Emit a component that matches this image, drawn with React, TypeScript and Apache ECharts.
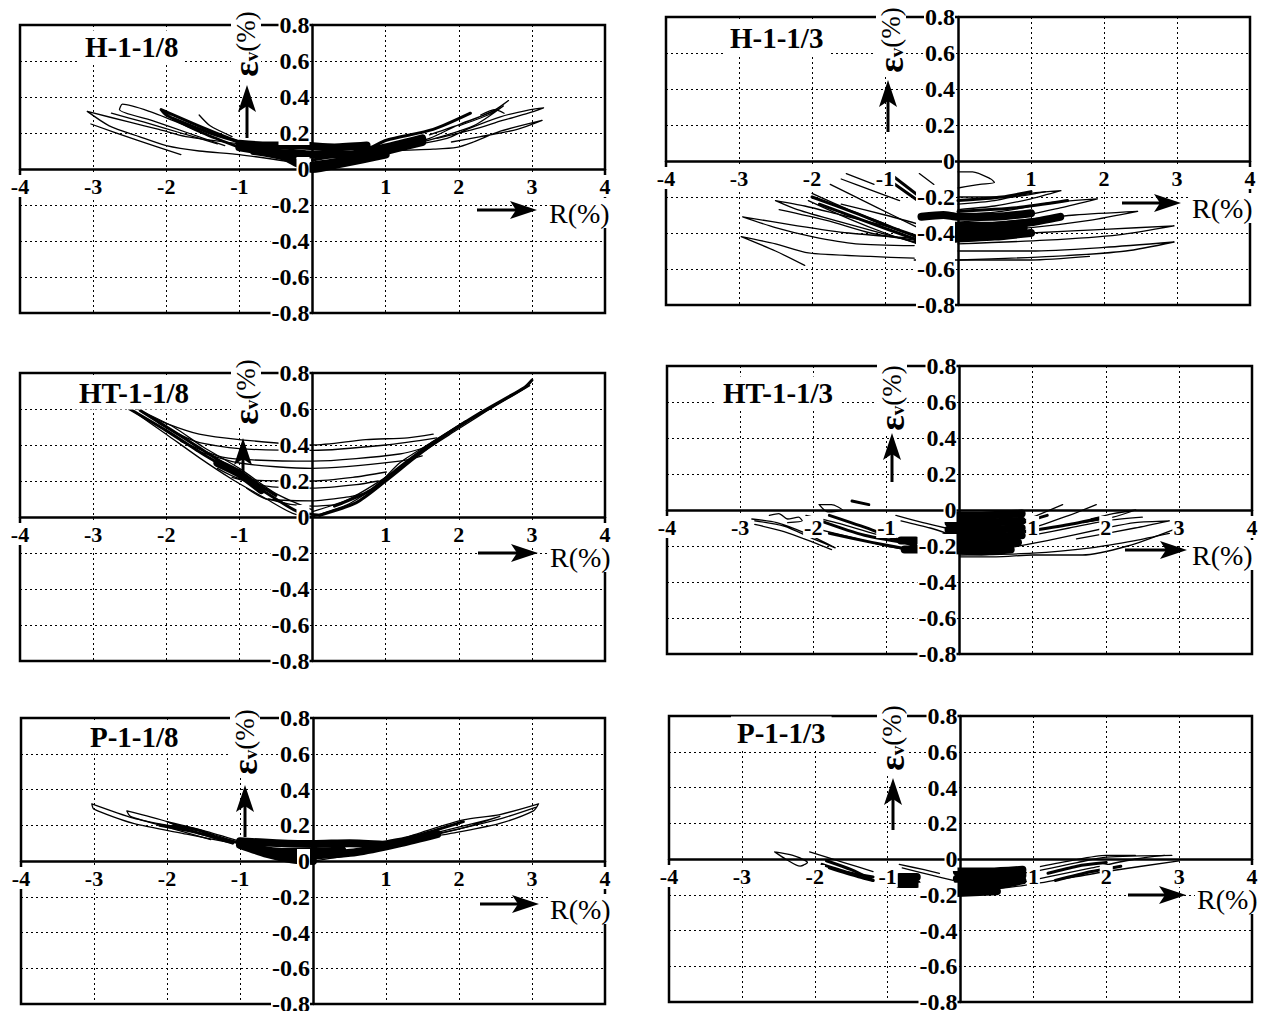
import React, { useEffect, useRef } from "react";
import * as echarts from "echarts";

type Pt = [number, number];
type Loop = Pt[];

// ---------------- data (R %, εv %) ----------------
const panelTitles = ["H-1-1/8", "H-1-1/3", "HT-1-1/8", "HT-1-1/3", "P-1-1/8", "P-1-1/3"];
const xMin = -4;
const xMax = 4;
const xStep = 1;
const yMin = -0.8;
const yMax = 0.8;
const yStep = 0.2;

// H-1-1/8
const h18Loops: Loop[] = [
  [[-0.1, 0.1], [-1.0, 0.14], [-1.73, 0.18], [-2.1, 0.22], [-2.5, 0.26], [-3.08, 0.32], [-2.78, 0.24], [-2.37, 0.18], [-2.0, 0.13], [-1.55, 0.1], [-1.0, 0.08], [-0.3, 0.04]],
  [[-3.03, 0.25], [-2.4, 0.16], [-1.8, 0.08]],
  [[-1.0, 0.12], [-1.32, 0.17], [-1.73, 0.24], [-2.23, 0.32], [-2.6, 0.36], [-2.64, 0.33], [-2.2, 0.27], [-1.7, 0.2], [-1.2, 0.13]],
  [[-2.75, 0.31], [-2.3, 0.26], [-1.8, 0.2], [-1.3, 0.14]],
  [[-1.55, 0.3], [-1.4, 0.24], [-1.1, 0.18]],
  [[1.0, 0.1], [1.6, 0.17], [2.02, 0.25], [2.47, 0.32], [2.68, 0.38], [2.5, 0.33], [2.1, 0.26], [1.6, 0.19]],
  [[1.2, 0.12], [1.84, 0.17], [2.11, 0.22], [2.57, 0.29], [2.98, 0.33], [3.16, 0.34], [2.95, 0.31], [2.6, 0.27], [2.2, 0.22], [1.7, 0.17]],
  [[1.0, 0.1], [1.65, 0.11], [1.97, 0.12], [2.2, 0.15], [2.57, 0.21], [3.14, 0.27], [2.8, 0.22], [2.3, 0.18], [1.9, 0.15]],
  [[1.5, 0.15], [2.2, 0.24], [2.61, 0.35], [2.4, 0.3], [2.0, 0.24]],
  [[2.3, 0.3], [2.5, 0.33], [2.62, 0.31]],
];
const h18Bold: Loop[] = [
  [[-0.6, 0.1], [-1.0, 0.15], [-1.5, 0.23], [-2.07, 0.33], [-2.0, 0.3], [-1.5, 0.2], [-1.0, 0.12]],
  [[0, 0.05], [0.74, 0.11], [1.01, 0.16], [1.65, 0.22], [2.16, 0.31]],
  [[-1.9, 0.28], [-1.4, 0.2], [-1.0, 0.15]],
];
const h18Heavy: Loop[] = [
  [[-1.0, 0.14], [-0.6, 0.13], [-0.2, 0.13], [0.3, 0.12], [0.74, 0.13]],
  [[-0.8, 0.1], [-0.4, 0.07], [-0.2, 0.03], [0, 0.0], [0.4, 0.03], [1.0, 0.08]],
  [[-1.0, 0.12], [-0.5, 0.09], [0, 0.08], [0.5, 0.08], [1.0, 0.12], [1.5, 0.17]],
  [[0, 0.02], [0.5, 0.05], [1.0, 0.1], [1.5, 0.15]],
];

// H-1-1/3
const h13Loops: Loop[] = [
  [[-0.6, -0.54], [-1.2, -0.53], [-2.05, -0.51], [-2.5, -0.46], [-2.97, -0.42], [-2.5, -0.5], [-2.1, -0.58]],
  [[-0.6, -0.43], [-1.5, -0.4], [-2.2, -0.36], [-2.95, -0.31], [-2.5, -0.37], [-2.0, -0.42], [-1.4, -0.46], [-0.6, -0.47]],
  [[-0.8, -0.38], [-1.6, -0.3], [-2.1, -0.25], [-2.5, -0.22], [-2.2, -0.27], [-1.6, -0.34], [-0.6, -0.45]],
  [[-2.45, -0.27], [-1.8, -0.33], [-1.2, -0.4], [-0.6, -0.44]],
  [[-2.0, -0.18], [-1.5, -0.27], [-1.0, -0.35], [-0.55, -0.43]],
  [[-2.05, -0.22], [-1.5, -0.32], [-1.0, -0.4], [-0.55, -0.46]],
  [[-1.75, -0.13], [-1.3, -0.22], [-0.9, -0.3], [-0.55, -0.37]],
  [[-1.53, -0.07], [-1.15, -0.13]],
  [[-1.6, -0.1], [-1.2, -0.16], [-0.8, -0.22]],
  [[-0.53, -0.07], [-0.33, -0.13]],
  [[-1.6, -0.24], [-1.0, -0.3], [-0.55, -0.35]],
  [[0, -0.06], [0.2, -0.06], [0.45, -0.1], [0.5, -0.12], [0.3, -0.13], [0, -0.15]],
  [[0, -0.2], [0.7, -0.2], [1.2, -0.17]],
  [[0, -0.24], [0.5, -0.22], [1.0, -0.18], [1.41, -0.165], [1.0, -0.21], [0.5, -0.25], [0, -0.27]],
  [[0, -0.3], [0.6, -0.28], [1.3, -0.23], [1.91, -0.21], [1.4, -0.26], [0.8, -0.31], [0, -0.34]],
  [[0, -0.36], [0.8, -0.33], [1.6, -0.3], [2.46, -0.28], [1.8, -0.33], [1.0, -0.37], [0, -0.4]],
  [[0, -0.42], [1.0, -0.4], [2.0, -0.38], [2.96, -0.36], [2.2, -0.41], [1.2, -0.44], [0, -0.46]],
  [[0, -0.5], [1.0, -0.5], [2.0, -0.48], [2.96, -0.45], [2.3, -0.5], [1.3, -0.53], [0, -0.55]],
  [[-0.6, -0.55], [0, -0.55], [1.0, -0.55], [1.8, -0.53]],
];
const h13Bold: Loop[] = [
  [[-0.87, -0.09], [-0.55, -0.19]],
  [[-0.9, -0.12], [-0.55, -0.22]],
  [[-2.0, -0.2], [-1.4, -0.29], [-0.9, -0.37], [-0.55, -0.42]],
  [[-1.9, -0.24], [-1.3, -0.33], [-0.55, -0.44]],
  [[0, -0.22], [0.6, -0.2], [1.0, -0.17]],
  [[0, -0.28], [0.8, -0.26], [1.5, -0.22]],
];
const h13Heavy: Loop[] = [
  [[-0.55, -0.44], [-0.3, -0.44], [0, -0.43], [0.5, -0.42], [1.0, -0.4]],
  [[-0.5, -0.31], [-0.2, -0.3], [0, -0.31], [0.5, -0.31], [1.0, -0.29]],
  [[-0.4, -0.36], [0, -0.36], [0.5, -0.36], [1.0, -0.34], [1.4, -0.31]],
  [[-0.3, -0.4], [0.3, -0.39], [0.9, -0.37]],
];

// HT-1-1/8
const ht18Loops: Loop[] = [
  [[-2.32, 0.58], [-2.0, 0.52], [-1.55, 0.46], [-1.0, 0.43], [0, 0.4], [0.73, 0.43], [1.3, 0.44], [1.65, 0.46]],
  [[-2.1, 0.52], [-1.6, 0.42], [-1.0, 0.38], [0, 0.37], [1.0, 0.4], [1.7, 0.44]],
  [[-1.8, 0.42], [-1.3, 0.34], [-0.96, 0.32], [0, 0.31], [1.19, 0.35], [1.65, 0.4]],
  [[-1.6, 0.37], [-1.0, 0.3], [0, 0.27], [1.19, 0.31], [1.5, 0.34]],
  [[-1.3, 0.27], [-0.96, 0.21], [0, 0.2], [0.55, 0.22], [1.01, 0.25]],
  [[-1.1, 0.22], [-0.6, 0.17], [0, 0.16], [0.6, 0.18], [0.9, 0.2]],
  [[-0.9, 0.16], [-0.63, 0.1], [0, 0.09], [0.46, 0.11], [0.7, 0.13]],
  [[-0.6, 0.1], [-0.3, 0.07], [0, 0.06], [0.4, 0.07]],
  [[-2.46, 0.59], [-2.0, 0.46], [-1.55, 0.33], [-1.1, 0.21], [-0.63, 0.1], [-0.27, 0.02], [0, 0]],
  [[-2.4, 0.6], [-1.9, 0.5], [-1.5, 0.39], [-1.0, 0.27], [-0.5, 0.13], [0, 0.04]],
  [[0, 0], [0.14, 0.02], [0.51, 0.075], [0.92, 0.19], [1.19, 0.3], [1.65, 0.42], [2.01, 0.51], [2.47, 0.61], [2.97, 0.73]],
  [[0, 0.03], [0.5, 0.1], [1.0, 0.22], [1.5, 0.36], [2.0, 0.49], [2.5, 0.62], [2.97, 0.74]],
];
const ht18Bold: Loop[] = [
  [[-2.5, 0.6], [-2.0, 0.48], [-1.5, 0.35], [-1.0, 0.23], [-0.5, 0.1], [-0.2, 0.03], [0.1, 0.01]],
  [[-2.35, 0.59], [-1.8, 0.45], [-1.3, 0.32], [-0.9, 0.22], [-0.5, 0.12]],
  [[0.1, 0.01], [0.6, 0.08], [1.0, 0.2], [1.4, 0.33], [1.8, 0.45], [2.3, 0.58], [2.9, 0.72], [3.0, 0.76]],
  [[0.3, 0.06], [0.8, 0.15], [1.2, 0.28], [1.6, 0.4], [2.1, 0.53]],
];
const ht18Heavy: Loop[] = [
  [[-1.3, 0.3], [-1.0, 0.24], [-0.7, 0.15]],
];

// HT-1-1/3
const ht13Loops: Loop[] = [
  [[-2.84, -0.05], [-2.5, -0.07], [-2.1, -0.13], [-1.7, -0.21], [-2.0, -0.16], [-2.4, -0.09], [-2.8, -0.06]],
  [[-2.8, -0.08], [-2.4, -0.12], [-2.0, -0.18], [-1.75, -0.22]],
  [[-2.6, -0.03], [-2.47, -0.02], [-2.35, -0.05], [-2.2, -0.04], [-2.15, -0.06], [-2.35, -0.07]],
  [[-1.92, 0.03], [-1.75, 0.03], [-1.6, 0.0], [-1.8, -0.01], [-1.92, 0.03]],
  [[-2.1, -0.03], [-1.6, -0.08], [-1.1, -0.14], [-0.55, -0.2]],
  [[-2.0, -0.1], [-1.5, -0.15], [-1.0, -0.2], [-0.55, -0.23]],
  [[-0.87, -0.03], [-0.5, -0.07], [-0.19, -0.1]],
  [[-0.8, -0.06], [-0.4, -0.1], [-0.1, -0.14]],
  [[0, -0.2], [0.6, -0.1], [1.0, -0.04], [1.41, 0.03]],
  [[0.2, -0.22], [1.0, -0.1], [1.5, -0.03], [1.87, 0.03]],
  [[0.3, -0.24], [1.2, -0.17], [2.0, -0.1], [2.4, -0.07], [2.87, -0.06], [2.4, -0.1], [1.6, -0.16]],
  [[0, -0.25], [1.0, -0.24], [1.8, -0.21], [2.4, -0.17], [2.87, -0.13]],
  [[1.8, -0.05], [2.1, -0.02], [2.41, 0.0], [2.1, -0.04], [1.7, -0.07]],
  [[0, -0.26], [0.5, -0.26], [1.0, -0.25], [1.68, -0.25], [2.3, -0.2], [2.92, -0.11]],
  [[1.0, -0.14], [1.5, -0.1], [2.0, -0.06], [2.5, -0.04]],
];
const ht13Bold: Loop[] = [
  [[-1.78, -0.03], [-1.2, -0.11], [-0.55, -0.21]],
  [[-1.78, -0.13], [-1.2, -0.18], [-0.55, -0.23]],
  [[-1.47, 0.05], [-1.24, 0.03]],
  [[-1.9, -0.06], [-1.3, -0.14], [-0.6, -0.19]],
  [[0.3, -0.15], [0.8, -0.08], [1.2, -0.03]],
  [[0.9, -0.12], [1.5, -0.08], [2.0, -0.04]],
];
const ht13Heavy: Loop[] = [
  [[-0.15, -0.03], [0.3, -0.03], [0.85, -0.02]],
  [[-0.15, -0.07], [0.3, -0.07], [0.85, -0.06]],
  [[-0.15, -0.11], [0.3, -0.11], [0.85, -0.1]],
  [[-0.2, -0.15], [0.3, -0.15], [0.85, -0.14]],
  [[-0.3, -0.19], [0.3, -0.19], [0.8, -0.18]],
  [[-0.75, -0.22], [-0.3, -0.22], [0.3, -0.23], [0.7, -0.22]],
  [[-0.8, -0.17], [-0.6, -0.17]],
];

// P-1-1/8
const p18Loops: Loop[] = [
  [[-1.0, 0.1], [-1.55, 0.17], [-2.0, 0.2], [-2.46, 0.24], [-3.03, 0.32], [-3.0, 0.29], [-2.46, 0.21], [-1.73, 0.15], [-1.1, 0.1]],
  [[-1.2, 0.11], [-1.7, 0.17], [-2.0, 0.22], [-2.55, 0.28], [-2.5, 0.25], [-2.0, 0.19], [-1.4, 0.12]],
  [[-1.0, 0.11], [-1.5, 0.17], [-2.0, 0.22], [-1.6, 0.16], [-1.2, 0.12]],
  [[0, 0], [0.74, 0.05], [1.42, 0.12], [1.97, 0.16], [2.56, 0.21], [3.02, 0.28], [3.09, 0.32], [2.56, 0.26], [2.06, 0.23], [1.56, 0.17], [1.05, 0.1]],
  [[0.3, 0.02], [1.0, 0.08], [1.6, 0.14], [2.1, 0.19], [2.56, 0.25], [2.3, 0.22], [1.8, 0.17], [1.2, 0.11]],
  [[1.4, 0.13], [2.0, 0.18], [2.6, 0.24], [3.05, 0.3]],
];
const p18Bold: Loop[] = [
  [[-0.99, 0.1], [-1.3, 0.13], [-1.55, 0.17], [-1.9, 0.2]],
  [[0.9, 0.1], [1.4, 0.14], [2.06, 0.22]],
  [[-2.1, 0.2], [-1.6, 0.16], [-1.1, 0.1]],
];
const p18Heavy: Loop[] = [
  [[-1, 0.11], [-0.5, 0.1], [0, 0.095], [0.5, 0.1], [1.0, 0.09]],
  [[-1, 0.09], [-0.63, 0.04], [-0.3, 0.01], [0, 0]],
  [[-0.8, 0.07], [-0.4, 0.05], [0, 0.05], [0.4, 0.06]],
  [[0, 0.03], [0.6, 0.05], [1.2, 0.1], [1.7, 0.15]],
];

// P-1-1/3
const p13Loops: Loop[] = [
  [[-2.55, 0.04], [-2.3, 0.02], [-2.1, -0.02], [-2.2, -0.04], [-2.4, 0.0], [-2.55, 0.04]],
  [[-2.07, 0.04], [-1.6, -0.02], [-1.2, -0.07]],
  [[-0.84, -0.03], [-0.5, -0.06], [-0.29, -0.08]],
  [[-0.8, -0.05], [-0.4, -0.09], [-0.1, -0.12]],
  [[0.2, -0.12], [1.0, -0.07], [1.6, -0.02], [2.0, 0.01], [2.9, 0.02]],
  [[0.4, -0.17], [1.2, -0.1], [1.8, -0.05], [2.4, 0.0], [2.8, 0.02]],
  [[0.0, -0.19], [1.0, -0.14], [2.0, -0.07], [3.0, -0.01]],
  [[1.0, -0.05], [1.5, -0.01], [2.0, 0.02], [2.4, 0.02]],
];
const p13Bold: Loop[] = [
  [[-1.84, -0.01], [-1.5, -0.06], [-1.2, -0.12]],
  [[-1.9, -0.03], [-1.5, -0.08], [-1.2, -0.1]],
  [[-1.8, -0.05], [-1.4, -0.1], [-1.2, -0.12]],
  [[1.2, -0.08], [1.6, -0.04], [2.0, -0.02]],
  [[1.3, -0.12], [1.8, -0.07], [2.2, -0.04]],
];
const p13Heavy: Loop[] = [
  [[-0.84, -0.1], [-0.6, -0.1]],
  [[-0.84, -0.14], [-0.6, -0.14]],
  [[-0.05, -0.07], [0.4, -0.07], [0.85, -0.06]],
  [[-0.05, -0.11], [0.4, -0.11], [0.85, -0.09]],
  [[-0.05, -0.15], [0.4, -0.15], [0.85, -0.12]],
  [[-0.05, -0.19], [0.5, -0.18]],
];

const panelThin = [h18Loops, h13Loops, ht18Loops, ht13Loops, p18Loops, p13Loops];
const panelBold = [h18Bold, h13Bold, ht18Bold, ht13Bold, p18Bold, p13Bold];
const panelHeavy = [h18Heavy, h13Heavy, ht18Heavy, ht13Heavy, p18Heavy, p13Heavy];

// ---------------- layout (pixels) ----------------
type Layout = {
  grid: { left: number; top: number; width: number; height: number };
  title: [number, number];
  eps: [number, number];
  up: [number, number, number]; // x, tipY, bottomY
  r: [number, number]; // left, centerY
  rArrow: [number, number, number]; // x0, x1, y
};
const layout: Layout[] = [
  { grid: { left: 20, top: 25, width: 585, height: 288 }, title: [79, 47], eps: [246, 44], up: [247, 85, 138], r: [547, 213], rArrow: [477, 537, 210] },
  { grid: { left: 666, top: 17, width: 584, height: 288 }, title: [724, 38], eps: [891, 40], up: [888, 80, 132], r: [1190, 208], rArrow: [1122, 1181, 203] },
  { grid: { left: 20, top: 373, width: 585, height: 288 }, title: [73, 393], eps: [246, 392], up: [243, 438, 480], r: [548, 557], rArrow: [478, 538, 553] },
  { grid: { left: 667, top: 366, width: 585, height: 288 }, title: [717, 393], eps: [892, 398], up: [892, 433, 482], r: [1190, 555], rArrow: [1125, 1187, 550] },
  { grid: { left: 21, top: 718, width: 584, height: 286 }, title: [84, 737], eps: [245, 742], up: [245, 785, 837], r: [548, 909], rArrow: [480, 539, 904] },
  { grid: { left: 669, top: 716, width: 583, height: 286 }, title: [731, 733], eps: [892, 738], up: [893, 778, 830], r: [1195, 899], rArrow: [1128, 1186, 895] },
];

const SERIF = '"Liberation Serif", "Times New Roman", serif';

function fmtY(v: number): string {
  const r = Math.round(v * 10) / 10;
  return r === 0 ? "0" : r.toFixed(1);
}

function buildOption() {
  const grids = layout.map((l) => ({
    ...l.grid,
    show: true,
    borderColor: "#000",
    borderWidth: 2.5,
    backgroundColor: "transparent",
    containLabel: false,
    outerBoundsMode: "none",
  }));
  const split = { show: true, lineStyle: { color: "#000", type: [2, 3], width: 1 } };
  const xAxes = layout.map((l, i) => ({
    gridIndex: i,
    type: "value",
    position: "bottom",
    offset: -l.grid.height / 2,
    min: xMin,
    max: xMax,
    interval: xStep,
    z: 5,
    axisLine: { onZero: false, lineStyle: { color: "#000", width: 2.5 } },
    axisTick: { show: false },
    axisLabel: {
      showMinLabel: true,
      showMaxLabel: true,
      formatter: (v: number) => (Math.abs(v) < 1e-9 ? "" : String(Math.round(v))),
      color: "#000",
      fontFamily: SERIF,
      fontWeight: "bold",
      fontSize: 22,
      margin: 6,
      backgroundColor: "#fff",
      padding: [0, 1],
    },
    splitLine: split,
  }));
  const yAxes = layout.map((l, i) => ({
    gridIndex: i,
    type: "value",
    position: "left",
    offset: -l.grid.width / 2,
    min: yMin,
    max: yMax,
    interval: yStep,
    z: 5,
    axisLine: { onZero: false, lineStyle: { color: "#000", width: 2.5 } },
    axisTick: { show: false },
    axisLabel: {
      showMinLabel: true,
      showMaxLabel: true,
      formatter: fmtY,
      color: "#000",
      fontFamily: SERIF,
      fontWeight: "bold",
      fontSize: 24,
      margin: 3,
      backgroundColor: "#fff",
      padding: [0, 0, 0, 1],
    },
    splitLine: split,
  }));

  const series: any[] = [];
  const add = (loops: Loop[], i: number, width: number) => {
    loops.forEach((loop) => {
      series.push({
        type: "line",
        xAxisIndex: i,
        yAxisIndex: i,
        data: loop,
        symbol: "none",
        smooth: 0.25,
        silent: true,
        z: 2,
        lineStyle: { color: "#000", width, cap: "round", join: "round" },
      });
    });
  };
  layout.forEach((_, i) => {
    add(panelThin[i], i, 1.3);
    add(panelBold[i], i, 3);
    add(panelHeavy[i], i, 8);
  });

  const elements: any[] = [];
  layout.forEach((l, i) => {
    elements.push({
      type: "text",
      x: l.title[0],
      y: l.title[1],
      z: 10,
      style: {
        text: panelTitles[i],
        font: `bold 29px ${SERIF}`,
        fill: "#000",
        align: "left",
        verticalAlign: "middle",
        backgroundColor: "#fff",
        padding: [2, 6],
      },
    });
    elements.push({
      type: "text",
      x: l.eps[0],
      y: l.eps[1],
      rotation: Math.PI / 2,
      z: 10,
      style: {
        text: "{e|ε}{s|v}{p|(%)}",
        align: "center",
        verticalAlign: "middle",
        backgroundColor: "#fff",
        padding: [0, 3],
        fill: "#000",
        rich: {
          e: { font: `bold 36px ${SERIF}`, fill: "#000", lineHeight: 30 },
          s: { font: `bold 19px ${SERIF}`, fill: "#000", verticalAlign: "bottom", lineHeight: 30, padding: [12, 0, 0, 0] },
          p: { font: `27px ${SERIF}`, fill: "#000", lineHeight: 30 },
        },
      },
    });
    const [ax, tipY, botY] = l.up;
    elements.push({
      type: "line",
      z: 10,
      shape: { x1: ax, y1: botY, x2: ax, y2: tipY + 14 },
      style: { stroke: "#000", lineWidth: 3 },
    });
    elements.push({
      type: "polygon",
      z: 10,
      shape: { points: [[ax, tipY], [ax + 9, tipY + 27], [ax, tipY + 21], [ax - 9, tipY + 27]] },
      style: { fill: "#000" },
    });
    const [x0, x1, ay] = l.rArrow;
    elements.push({
      type: "line",
      z: 10,
      shape: { x1: x0, y1: ay, x2: x1 - 14, y2: ay },
      style: { stroke: "#000", lineWidth: 3 },
    });
    elements.push({
      type: "polygon",
      z: 10,
      shape: { points: [[x1, ay], [x1 - 27, ay - 9], [x1 - 21, ay], [x1 - 27, ay + 9]] },
      style: { fill: "#000" },
    });
    elements.push({
      type: "text",
      x: l.r[0],
      y: l.r[1],
      z: 10,
      style: {
        text: "R(%)",
        font: `28px ${SERIF}`,
        fill: "#000",
        align: "left",
        verticalAlign: "middle",
        backgroundColor: "#fff",
        padding: [1, 2],
      },
    });
  });

  return {
    animation: false,
    backgroundColor: "#fff",
    grid: grids,
    xAxis: xAxes,
    yAxis: yAxes,
    series,
    graphic: { elements },
  };
}

export default function App() {
  const ref = useRef<HTMLDivElement | null>(null);
  useEffect(() => {
    if (!ref.current) return;
    const chart = echarts.init(ref.current, undefined, { renderer: "svg" });
    chart.setOption(buildOption() as any);
    return () => chart.dispose();
  }, []);
  return (
    <div
      ref={ref}
      style={{ position: "absolute", left: 0, top: 0, width: 1261, height: 1011, background: "#fff" }}
    />
  );
}
